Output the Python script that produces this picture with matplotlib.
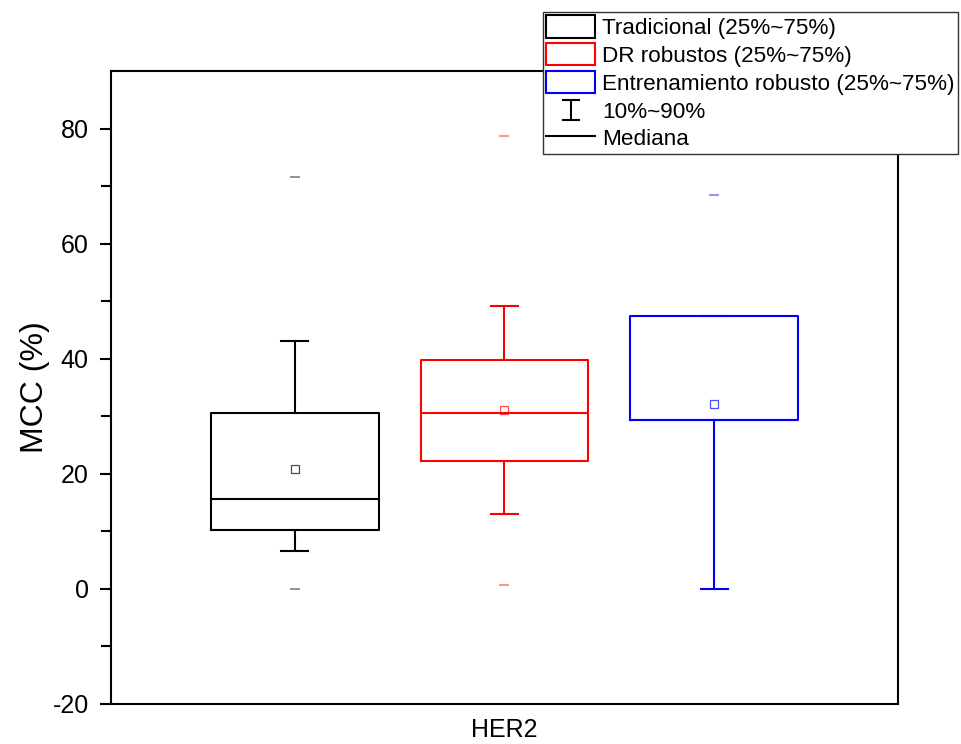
import matplotlib.pyplot as plt
from matplotlib.patches import Patch
from matplotlib.lines import Line2D
from matplotlib.legend_handler import HandlerBase

# box statistics (MCC in %)
groups = ["Tradicional", "DR robustos", "Entrenamiento robusto"]
colors = ["black", "red", "blue"]
q1 = [10.2, 22.2, 29.4]
med = [15.6, 30.5, 29.4]
q3 = [30.6, 39.8, 47.4]
p10 = [6.5, 13.0, 0.0]
p90 = [43.0, 49.1, 47.4]
means = [20.9, 31.0, 32.1]
mins = [0.0, 0.7, 0.0]
maxs = [71.5, 78.7, 68.4]
positions = [1, 2, 3]


class WhiskerHandler(HandlerBase):
    # draws the small "I" symbol used for the 10%~90% entry
    def create_artists(self, legend, orig_handle, xdescent, ydescent,
                       width, height, fontsize, trans):
        xc = width / 2 - xdescent
        y0 = -ydescent + 0.05 * height
        y1 = height - ydescent - 0.05 * height
        cw = 0.16 * width
        arts = [
            Line2D([xc, xc], [y0, y1]),
            Line2D([xc - cw, xc + cw], [y0, y0]),
            Line2D([xc - cw, xc + cw], [y1, y1]),
        ]
        for a in arts:
            a.set_color("black")
            a.set_linewidth(1.5)
            a.set_transform(trans)
        return arts


class WhiskerKey:
    pass


plt.rcParams["font.family"] = ["Liberation Sans", "DejaVu Sans"]
plt.rcParams["axes.unicode_minus"] = False

fig = plt.figure(figsize=(9.61, 7.44), dpi=100)
ax = fig.add_axes([0.1155, 0.0538, 0.8189, 0.8508])

for i in range(3):
    st = [dict(med=med[i], q1=q1[i], q3=q3[i], whislo=p10[i], whishi=p90[i],
               mean=means[i], fliers=[mins[i], maxs[i]])]
    c = colors[i]
    ax.bxp(st, positions=[positions[i]], widths=0.8, capwidths=0.13,
           showmeans=True, patch_artist=False,
           boxprops=dict(color=c, linewidth=1.5),
           medianprops=dict(color=c, linewidth=1.5),
           whiskerprops=dict(color=c, linewidth=1.5),
           capprops=dict(color=c, linewidth=1.5),
           meanprops=dict(marker="s", markersize=6, markerfacecolor="none",
                          markeredgecolor=c, markeredgewidth=0.9, alpha=0.7),
           flierprops=dict(marker="_", markersize=7, markeredgecolor=c,
                           markeredgewidth=1.2, alpha=0.5))

ax.set_xlim(0.124, 3.876)
ax.set_ylim(-20, 90)
ax.set_yticks([-20, 0, 20, 40, 60, 80])
ax.set_yticks([-10, 10, 30, 50, 70], minor=True)
ax.set_xticks([2])
ax.set_xticklabels(["HER2"], fontsize=18)
ax.tick_params(axis="x", length=0, pad=10)
ax.tick_params(axis="y", which="major", length=8, width=1.5, labelsize=18, pad=8,
               direction="out")
ax.tick_params(axis="y", which="minor", length=7, width=1.5, direction="out")
ax.set_ylabel("MCC (%)", fontsize=23, labelpad=2)
for s in ax.spines.values():
    s.set_linewidth(1.5)

handles = [Patch(facecolor="white", edgecolor=c, linewidth=1.5) for c in colors]
handles += [WhiskerKey(), Line2D([], [], color="black", linewidth=1.5)]
labels = [g + " (25%~75%)" for g in groups] + ["10%~90%", "Mediana"]
leg = fig.legend(handles, labels, loc="upper right",
                 bbox_to_anchor=(0.997, 0.984), fontsize=16.2, frameon=True,
                 fancybox=False, edgecolor="#333333", framealpha=1,
                 handlelength=2.2, handleheight=1.15, handletextpad=0.3,
                 labelspacing=0.18, borderpad=0.15, borderaxespad=0,
                 handler_map={WhiskerKey: WhiskerHandler()})
leg.get_frame().set_linewidth(1.0)

fig.savefig("out.png", dpi=100)
